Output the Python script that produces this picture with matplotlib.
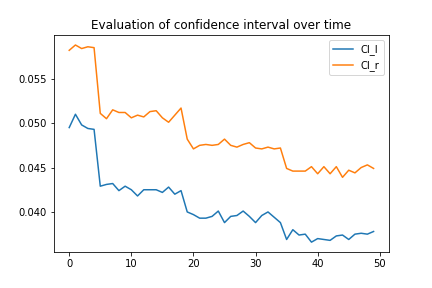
import numpy as np
import matplotlib
matplotlib.use('Agg')
import matplotlib.pyplot as plt

steps = np.arange(50)
ci_l = [0.0495, 0.0510, 0.0498, 0.0494, 0.0493, 0.0429, 0.0431, 0.0432, 0.0424, 0.0429,
        0.0425, 0.0418, 0.0425, 0.0425, 0.0425, 0.0422, 0.0428, 0.0420, 0.0424, 0.0400,
        0.0397, 0.0393, 0.0393, 0.0395, 0.0401, 0.0388, 0.0395, 0.0396, 0.0401, 0.0395,
        0.0388, 0.0396, 0.0400, 0.0394, 0.0388, 0.0369, 0.0380, 0.0374, 0.0375, 0.0366,
        0.0370, 0.0369, 0.0368, 0.0373, 0.0374, 0.0369, 0.0375, 0.0376, 0.0375, 0.0378]
ci_r = [0.0582, 0.0588, 0.0584, 0.0586, 0.0585, 0.0511, 0.0505, 0.0515, 0.0512, 0.0512,
        0.0506, 0.0509, 0.0507, 0.0513, 0.0514, 0.0506, 0.0501, 0.0509, 0.0517, 0.0482,
        0.0471, 0.0475, 0.0476, 0.0475, 0.0476, 0.0482, 0.0475, 0.0473, 0.0476, 0.0478,
        0.0472, 0.0471, 0.0473, 0.0471, 0.0472, 0.0449, 0.0446, 0.0446, 0.0446, 0.0451,
        0.0443, 0.0451, 0.0443, 0.0451, 0.0439, 0.0447, 0.0444, 0.0450, 0.0453, 0.0449]

fig, ax = plt.subplots(figsize=(6, 4), dpi=72)
fig.subplots_adjust(left=0.125, right=0.9, bottom=0.125, top=0.878)
ax.plot(steps, ci_l, label='CI_l')
ax.plot(steps, ci_r, label='CI_r')
ax.set_title('Evaluation of confidence interval over time')
ax.legend(loc='upper right')
fig.savefig('out.png', dpi=72)
